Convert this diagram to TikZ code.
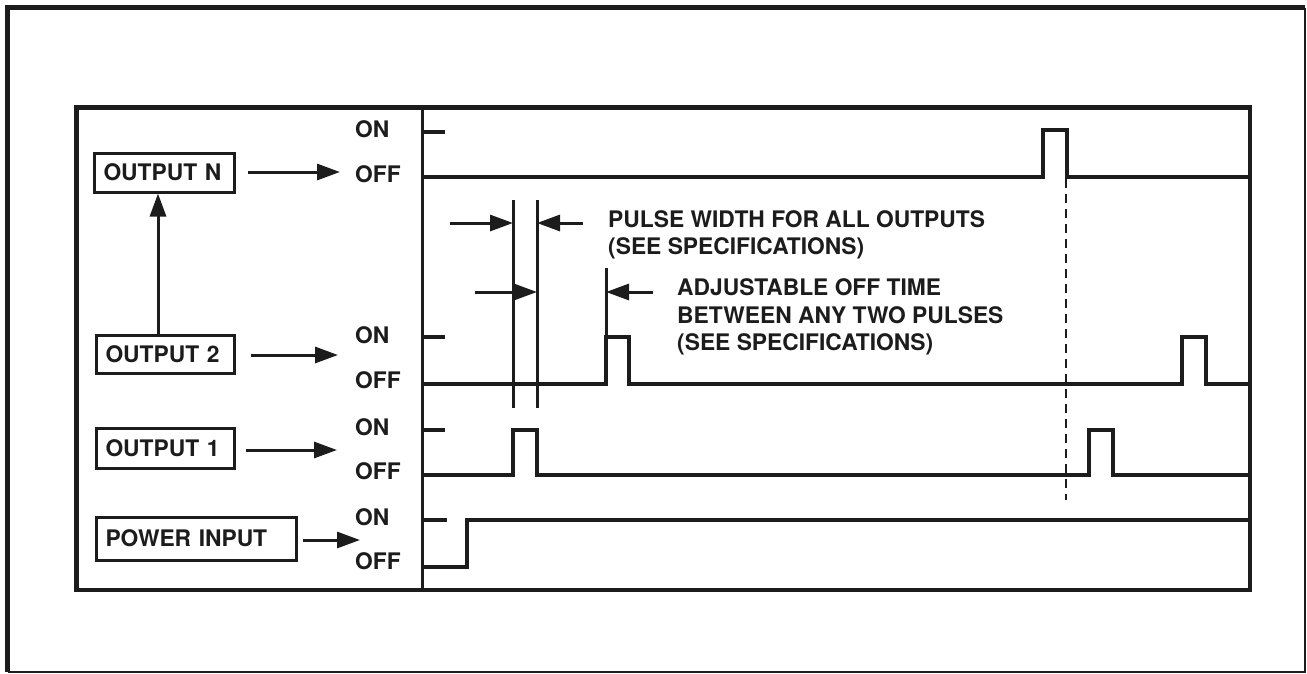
\documentclass[tikz,border=0pt]{standalone}
\usepackage{fontspec}
\setmainfont{TeX Gyre Heros}
\usetikzlibrary{arrows.meta,calc}
\definecolor{ink}{RGB}{28,28,28}
\begin{document}
\begin{tikzpicture}[x=1pt,y=-1pt, line join=miter, draw=ink, text=ink,
  sig/.style={draw=ink, line width=3.3pt},
  lbl/.style={font=\fontsize{22.8}{26}\selectfont\bfseries, inner sep=0pt, anchor=base west},
  box/.style={draw=ink, line width=3pt, anchor=west, align=left, inner xsep=9pt, inner ysep=0pt,
              font=\fontsize{22.8}{26}\selectfont\bfseries},
  arr/.style={draw=ink, line width=3pt, -{Triangle[length=23pt,width=16pt]}},
  dimline/.style={draw=ink, line width=3pt},
  guide/.style={draw=ink, line width=2.2pt, dash pattern=on 9pt off 6pt},
]
\useasboundingbox (0,0) rectangle (1307,673);

% outer frame
\draw[line width=5pt] (7.5,672) -- (7.5,7.5) -- (1305.3,7.5);
\draw[line width=2pt] (1305.3,7.5) -- (1305.3,672) -- (7.5,672);

% inner frame and divider
\draw[line width=4.5pt] (76.5,107.5) rectangle (1250,590);
\draw[line width=3pt] (422,107.5) -- (422,590);

% input boxes
\node[box, text width=122pt, minimum height=39pt] (outN) at (93,172.5) {OUTPUT N};
\node[box, text width=120pt, minimum height=38pt] (out2) at (95,354) {OUTPUT 2};
\node[box, text width=120pt, minimum height=40pt] (out1) at (95,448) {OUTPUT 1};
\node[box, text width=182pt, minimum height=43pt] (pwr) at (95,538.5) {POWER INPUT};

% ON / OFF labels
\node[lbl] (onN)  at (355,137) {ON};
\node[lbl] (offN) at (355,182) {OFF};
\node[lbl] (on2)  at (355,343) {ON};
\node[lbl] (off2) at (355,388) {OFF};
\node[lbl] (on1)  at (355,435) {ON};
\node[lbl] (off1) at (355,479) {OFF};
\node[lbl] (onP)  at (355,525) {ON};
\node[lbl] (offP) at (355,569) {OFF};

% arrows from boxes
\coordinate (tN) at (340,172);
\coordinate (t2) at (338,355);
\coordinate (t1) at (337,450);
\coordinate (tP) at (360,540);
\draw[arr] (outN.east |- tN) ++(12,0) -- (tN);
\draw[arr] (out2.east |- t2) ++(15,0) -- (t2);
\draw[arr] (out1.east |- t1) ++(10,0) -- (t1);
\draw[arr] (pwr.east |- tP) ++(5,0) -- (tP);
\draw[arr] (out2.north -| 158,0) -- (outN.south -| 158,0);

% signal traces
\draw[sig] (422,132) -- (445,132);
\draw[sig] (422,177) -- (1043,177) -- (1043,130) -- (1067,130) -- (1067,177) -- (1250,177);

\draw[sig] (422,337) -- (445,337);
\draw[sig] (422,384) -- (606,384) -- (606,337) -- (629,337) -- (629,384) -- (1182,384)
           -- (1182,337) -- (1206,337) -- (1206,384) -- (1250,384);

\draw[sig] (422,430) -- (445,430);
\draw[sig] (422,475) -- (513,475) -- (513,430) -- (537,430) -- (537,475) -- (1089,475)
           -- (1089,430) -- (1113,430) -- (1113,475) -- (1250,475);

\draw[sig] (422,520) -- (447,520);
\draw[sig] (422,567) -- (467,567) -- (467,520) -- (1250,520);

% dashed alignment line
\draw[guide] (1066,179) -- (1066,500);

% dimension lines
\draw[dimline] (513,200) -- (513,408);
\draw[dimline] (537,200) -- (537,408);
\draw[dimline] (606,268) -- (606,337);
\draw[arr] (450,223) -- (513,223);
\draw[arr] (583,223) -- (537,223);
\draw[arr] (475,292) -- (537,292);
\draw[arr] (653,292) -- (606,292);

% annotation texts
\node[lbl] (pw1) at (608,227) {PULSE WIDTH FOR ALL OUTPUTS};
\node[lbl] (pw2) at (608,254) {(SEE SPECIFICATIONS)};
\node[lbl] (ad1) at (677,295) {ADJUSTABLE OFF TIME};
\node[lbl] (ad2) at (677,323) {BETWEEN ANY TWO PULSES};
\node[lbl] (ad3) at (677,350) {(SEE SPECIFICATIONS)};
\end{tikzpicture}
\end{document}
